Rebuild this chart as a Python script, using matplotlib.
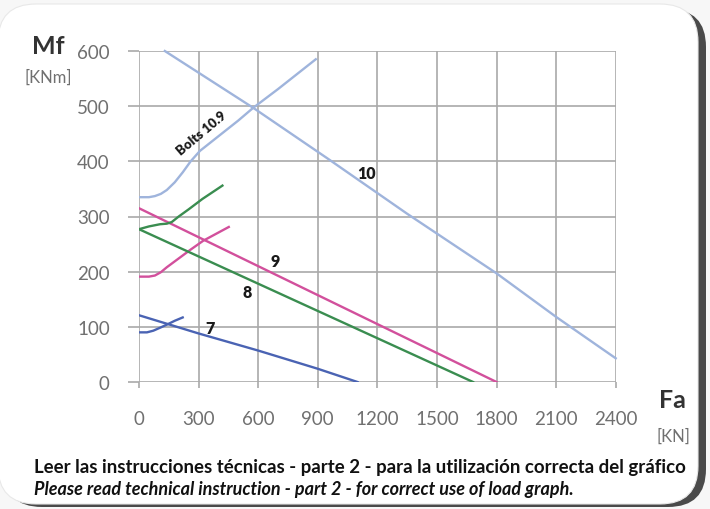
import matplotlib
matplotlib.use("Agg")
import matplotlib.pyplot as plt
from matplotlib.patches import FancyBboxPatch

# ---- data ----
x_ticks = [0, 300, 600, 900, 1200, 1500, 1800, 2100, 2400]
y_ticks = [0, 100, 200, 300, 400, 500, 600]

l10_x = [130, 575, 950, 1350, 1800, 2100, 2400]
l10_y = [600, 497, 405, 305, 197, 118, 43]

b109_x = [0, 50, 80, 110, 140, 180, 220, 260, 307, 500, 575, 700, 890]
b109_y = [335, 335, 337, 341, 348, 362, 380, 400, 419, 474, 497, 531, 585]

l9_x = [0, 1800]
l9_y = [315, 0]

b9_x = [0, 50, 80, 110, 140, 200, 260, 323, 452]
b9_y = [191, 191, 193, 199, 208, 224, 240, 256, 281]

l8_x = [0, 1682]
l8_y = [277, 0]

b8_x = [0, 50, 106, 140, 165, 200, 250, 320, 420]
b8_y = [277, 282, 286, 287, 290, 300, 313, 332, 356]

l7_x = [0, 300, 600, 900, 1100]
l7_y = [121, 88, 57, 24, 0]

b7_x = [0, 40, 72, 110, 146, 180, 220]
b7_y = [90, 90, 93, 99, 105, 111, 117]

labels = ["10", "9", "8", "7"]
label_x = [1145, 685, 543, 357]
label_y = [378, 219, 163, 97]

W, H = 710, 510
fig = plt.figure(figsize=(W / 100, H / 100), dpi=100)
fig.patch.set_facecolor("#f7f7f7")

# card with shadow
bg = fig.add_axes([0, 0, 1, 1])
bg.set_xlim(0, W)
bg.set_ylim(H, 0)
bg.axis("off")
shadow = FancyBboxPatch((4, 10), W - 8, H - 12, boxstyle="round,pad=0,rounding_size=38",
                        fc="#4a4a4a", ec="none", zorder=0)
bg.add_patch(shadow)
card = FancyBboxPatch((-2, 5), W - 10, H - 10, boxstyle="round,pad=0,rounding_size=38",
                      fc="white", ec="#e8e8e8", lw=0.8, zorder=1)
bg.add_patch(card)

ax = fig.add_axes([139 / W, 1 - 383 / H, (615.7 - 139) / W, (383 - 52) / H])
ax.set_facecolor("none")
ax.set_xlim(0, 2400)
ax.set_ylim(0, 600)
ax.set_xticks(x_ticks)
ax.set_yticks(y_ticks)
ax.set_xticklabels([str(v) for v in x_ticks])
ax.set_yticklabels([str(v) for v in y_ticks])
for s in ax.spines.values():
    s.set_visible(False)
ax.grid(True, color="#a9a9a9", lw=1.2, zorder=0)
ax.tick_params(axis="y", length=8, width=1.2, color="#a9a9a9", pad=13,
               labelsize=13.5, labelcolor="#707070")
ax.tick_params(axis="x", length=4, width=1.2, color="#a9a9a9", pad=16,
               labelsize=13.5, labelcolor="#707070")
for t in ax.get_xticklabels() + ax.get_yticklabels():
    t.set_fontfamily("Lato")

c_lb = "#9fb4dc"
c_mg = "#d2509c"
c_gr = "#3a8d50"
c_bl = "#4a63b3"
lw = 1.7
ax.plot(l10_x, l10_y, color=c_lb, lw=lw, zorder=3, clip_on=False)
ax.plot(b109_x, b109_y, color=c_lb, lw=lw, zorder=3)
ax.plot(l9_x, l9_y, color=c_mg, lw=lw, zorder=3)
ax.plot(b9_x, b9_y, color=c_mg, lw=lw, zorder=3)
ax.plot(l8_x, l8_y, color=c_gr, lw=lw, zorder=3)
ax.plot(b8_x, b8_y, color=c_gr, lw=lw, zorder=3)
ax.plot(l7_x, l7_y, color=c_bl, lw=lw, zorder=3)
ax.plot(b7_x, b7_y, color=c_bl, lw=lw, zorder=3)

for t, x, y in zip(labels, label_x, label_y):
    ax.text(x, y, t, fontsize=11.5, fontweight="heavy", color="#1a1a1a",
            ha="center", va="center", family="Lato", zorder=4)
ax.text(316, 453, "Bolts 10.9", fontsize=9.5, fontweight="heavy", color="#1a1a1a",
        ha="center", va="center", rotation=40, family="Lato", zorder=4)

# axis titles
fig.text(48 / W, 1 - 47 / H, "Mf", fontsize=18, fontweight="bold", color="#333333",
         ha="center", va="center", family="Lato")
fig.text(48 / W, 1 - 78 / H, "[KNm]", fontsize=12, color="#707070",
         ha="center", va="center", family="Lato")
fig.text(672 / W, 1 - 401 / H, "Fa", fontsize=18, fontweight="bold", color="#333333",
         ha="center", va="center", family="Lato")
fig.text(673 / W, 1 - 437 / H, "[KN]", fontsize=12, color="#707070",
         ha="center", va="center", family="Lato")

# footnotes
line1 = "Leer las instrucciones técnicas - parte 2 - para la utilización correcta del gráfico"
line2 = "Please read technical instruction - part 2 - for correct use of load graph."
t1 = fig.text(34 / W, 1 - 468 / H, line1, fontsize=12, fontweight="bold", color="#111111",
              ha="left", va="center", family="Lato")
t2 = fig.text(34 / W, 1 - 490 / H, line2, fontsize=12, fontweight="bold", style="italic",
              color="#111111", ha="left", va="center", family="Lato")
fig.canvas.draw()
r = fig.canvas.get_renderer()
for t, target in ((t1, 648), (t2, 538)):
    w = t.get_window_extent(r).width
    t.set_fontsize(12 * target / w)

fig.savefig("out.png", dpi=100, facecolor=fig.get_facecolor())
